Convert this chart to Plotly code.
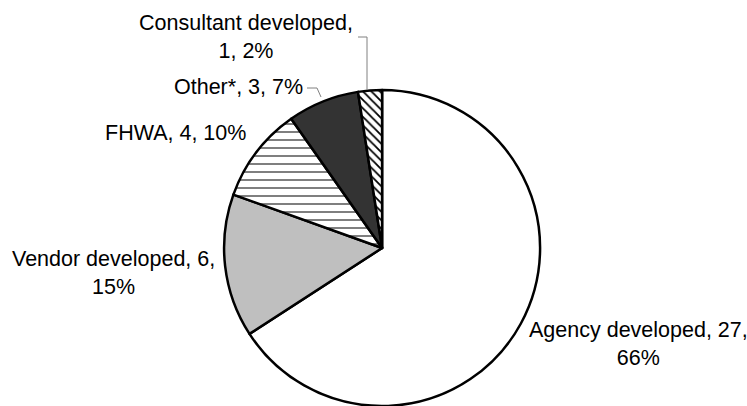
import plotly.graph_objects as go

labels = ["Agency developed", "Vendor developed", "FHWA", "Other*", "Consultant developed"]
values = [27, 6, 4, 3, 1]
# where the label text wraps: after the name, after the count, or not at all
wrap = ["count", "count", "none", "none", "name"]
# label block centres (paper coordinates)
label_x = [638 / 747, 113 / 747, 175 / 747, 238 / 747, 246 / 747]
label_y = [1 - 344 / 406, 1 - 273 / 406, 1 - 133 / 406, 1 - 87 / 406, 1 - 37 / 406]

total = sum(values)
texts = []
for lab, v, w in zip(labels, values, wrap):
    pct = f"{round(v / total * 100)}%"
    if w == "name":
        texts.append(f"{lab},<br>{v}, {pct}")
    elif w == "count":
        texts.append(f"{lab}, {v},<br>{pct}")
    else:
        texts.append(f"{lab}, {v}, {pct}")

fills = ["#FFFFFF", "#BFBFBF", "#FFFFFF", "#333333", "#FFFFFF"]

fig = go.Figure(go.Pie(
    labels=labels,
    values=values,
    textinfo="none",
    sort=False,
    direction="clockwise",
    rotation=0,
    hole=0,
    marker=dict(
        colors=fills,
        line=dict(color="#000000", width=2.5),
        pattern=dict(
            shape=["", "", "-", "", "\\"],
            fgcolor=["#000000", "#000000", "#7F7F7F", "#000000", "#000000"],
            bgcolor=fills,
            size=[8, 8, 8, 8, 6],
            solidity=[0.3, 0.3, 0.25, 0.3, 0.3],
        ),
    ),
    domain=dict(x=[0.2975, 0.7255], y=[0.0, 0.7783]),
    showlegend=False,
    hoverinfo="label+value+percent",
))

font = dict(family="Liberation Sans, Arial, sans-serif", size=21.5, color="#000000")
for t, x, y in zip(texts, label_x, label_y):
    fig.add_annotation(
        text=t, x=x, y=y, xref="paper", yref="paper",
        xanchor="center", yanchor="middle", showarrow=False,
        font=font, align="center",
    )

# leader lines for the two small slices
leader = dict(color="#808080", width=1)
fig.add_shape(type="path", xref="paper", yref="paper",
              path=f"M {358/747},{1-37/406} L {367/747},{1-37/406} L {367/747},{1-90/406}",
              line=leader)
fig.add_shape(type="path", xref="paper", yref="paper",
              path=f"M {307/747},{1-88/406} L {317/747},{1-88/406} L {321/747},{1-97/406}",
              line=leader)

fig.update_layout(
    width=747,
    height=406,
    margin=dict(l=0, r=0, t=0, b=0),
    paper_bgcolor="#FFFFFF",
    plot_bgcolor="#FFFFFF",
)

fig.write_html(
    "out.html",
    config={"displayModeBar": False},
    post_script="document.body.style.margin='0';document.body.style.overflow='hidden';",
)
